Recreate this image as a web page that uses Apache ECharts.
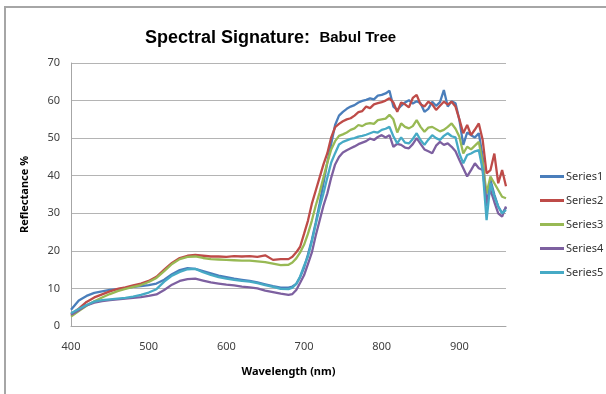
<!DOCTYPE html>
<html>
<head>
<meta charset="utf-8">
<script src="https://cdn.jsdelivr.net/npm/echarts@6/dist/echarts.min.js"></script>
<style>
  html, body { margin: 0; padding: 0; background: #fff; }
  #chart { width: 606px; height: 394px; }
</style>
</head>
<body>
<div id="chart"></div>
<script>
// wavelengths (nm): 10 nm steps in the visible, 5 nm from 680 on
let wavelengths = [
  400, 410, 420, 430, 440, 450, 460, 470, 480, 490, 500, 510, 520, 530, 540,
  550, 560, 570, 580, 590, 600, 610, 620, 630, 640, 650, 660, 670, 680,
  685, 690, 695, 700, 705, 710, 715, 720, 725, 730, 735, 740, 745, 750, 755,
  760, 765, 770, 775, 780, 785, 790, 795, 800, 805, 810, 815, 820, 825, 830,
  835, 840, 845, 850, 855, 860, 865, 870, 875, 880, 885, 890, 895, 900, 905,
  910, 915, 920, 925, 930, 935, 940, 945, 950, 955, 960
];

let series1 = [
  4.3, 6.8, 8.0, 8.8, 9.2, 9.6, 9.8, 10.1, 10.4, 10.6, 10.9, 11.3, 12.3, 13.8, 14.9,
  15.4, 15.2, 14.6, 14.0, 13.4, 13.0, 12.6, 12.3, 12.0, 11.6, 11.1, 10.6, 10.2, 10.2,
  10.5, 11.2, 13.0, 15.5, 19.0, 22.9, 27.5, 32.5, 38.0, 43.5, 48.5, 53.5, 56.0, 57.0, 57.8,
  58.4, 58.8, 59.5, 59.9, 60.2, 60.6, 60.3, 61.3, 61.5, 61.9, 62.6, 58.4, 57.5, 58.6, 59.5,
  60.1, 59.2, 59.8, 59.3, 57.0, 57.8, 59.7, 58.6, 59.6, 62.8, 58.4, 59.8, 59.3, 54.8, 48.2,
  51.5, 50.8, 50.2, 51.3, 45.0, 31.8, 38.9, 35.0, 31.8, 30.0, 31.5
];
let series2 = [
  3.0, 4.6, 6.4, 7.6, 8.4, 9.2, 9.9, 10.3, 10.8, 11.3, 12.0, 13.1, 15.0, 16.8, 18.1,
  18.7, 18.9, 18.7, 18.5, 18.5, 18.4, 18.6, 18.5, 18.6, 18.4, 18.8, 17.6, 17.8, 17.8,
  18.4, 19.6, 21.1, 24.5, 28.0, 32.5, 36.0, 39.5, 43.0, 46.0, 50.2, 52.9, 53.8, 54.5, 55.0,
  55.3, 56.0, 56.9, 57.2, 58.4, 58.0, 59.0, 59.3, 59.6, 60.0, 60.6, 59.5, 57.0, 59.5, 59.0,
  58.2, 60.7, 61.5, 59.0, 58.4, 59.7, 59.0, 57.5, 58.6, 59.7, 58.9, 59.7, 58.4, 55.0, 51.3,
  53.5, 50.8, 52.3, 53.9, 49.5, 40.6, 41.5, 45.9, 38.0, 41.5, 37.2
];
let series3 = [
  2.5, 4.0, 5.4, 6.6, 7.6, 8.5, 9.3, 9.9, 10.4, 10.9, 11.7, 12.8, 14.6, 16.5, 17.8,
  18.4, 18.5, 18.1, 17.8, 17.7, 17.6, 17.5, 17.4, 17.4, 17.2, 17.0, 16.6, 16.2, 16.3,
  16.9, 18.0, 19.6, 21.6, 24.5, 28.0, 32.0, 35.5, 39.5, 43.5, 47.0, 49.2, 50.6, 51.0, 51.5,
  52.2, 52.6, 53.5, 53.2, 53.8, 54.0, 53.8, 54.8, 55.0, 55.2, 56.2, 55.0, 51.5, 53.9, 53.0,
  52.6, 53.2, 54.8, 53.0, 51.7, 52.8, 53.0, 52.4, 51.8, 52.2, 53.0, 53.9, 52.5, 50.4, 45.9,
  47.7, 47.0, 48.0, 49.0, 43.3, 35.3, 39.8, 38.0, 36.2, 34.4, 34.0
];
let series4 = [
  3.0, 4.2, 5.5, 6.2, 6.6, 6.9, 7.1, 7.3, 7.5, 7.7, 8.0, 8.4, 9.6, 11.0, 12.0,
  12.5, 12.6, 12.1, 11.6, 11.3, 11.0, 10.8, 10.5, 10.3, 10.0, 9.4, 9.0, 8.6, 8.3,
  8.5, 9.6, 11.5, 13.5, 16.5, 19.5, 24.0, 28.0, 32.0, 35.3, 39.5, 43.0, 45.0, 46.2, 46.8,
  47.3, 47.8, 48.4, 48.8, 49.2, 49.9, 49.5, 50.3, 50.8, 50.2, 50.8, 47.7, 48.5, 48.2, 47.5,
  47.3, 48.4, 50.0, 48.5, 47.0, 46.5, 46.0, 48.0, 49.0, 48.2, 48.6, 47.7, 46.5, 44.2, 42.0,
  39.8, 41.5, 43.3, 42.0, 41.5, 32.7, 36.2, 33.0, 30.0, 29.1, 31.8
];
let series5 = [
  3.4, 4.5, 5.6, 6.5, 6.9, 7.1, 7.3, 7.5, 7.8, 8.3, 8.9, 9.8, 11.8, 13.4, 14.4,
  15.1, 15.2, 14.3, 13.6, 13.0, 12.6, 12.3, 12.0, 11.8, 11.4, 10.9, 10.4, 9.9, 9.8,
  10.2, 11.2, 13.2, 16.0, 18.5, 22.5, 27.0, 31.5, 35.3, 39.5, 43.5, 46.0, 48.3, 49.0, 49.4,
  49.8, 50.0, 50.4, 50.6, 50.9, 51.3, 51.7, 51.5, 52.2, 52.5, 53.0, 50.5, 48.6, 50.2, 48.8,
  48.6, 49.8, 51.3, 49.5, 48.2, 49.6, 50.8, 50.0, 49.5, 50.6, 51.3, 50.5, 50.2, 45.9, 43.3,
  45.5, 45.9, 46.5, 46.8, 41.5, 28.2, 38.0, 34.5, 31.8, 30.0, 30.9
];

let names = ['Series1', 'Series2', 'Series3', 'Series4', 'Series5'];
let colors = ['#4a7ebb', '#be4b48', '#98b954', '#7d60a0', '#46aac5'];
let allSeries = [series1, series2, series3, series4, series5];

let chartDom = document.getElementById('chart');
let myChart = echarts.init(chartDom);
let option;

function pairs(vals) {
  return wavelengths.map(function (w, i) { return [w, vals[i]]; });
}

option = {
  animation: false,
  backgroundColor: '#fff',
  textStyle: { fontFamily: 'Noto Sans' },
  graphic: [{
    type: 'rect',
    shape: { x: 5, y: 7, width: 700, height: 500 },
    style: { fill: 'none', stroke: '#a6a6a6', lineWidth: 2 },
    silent: true
  }],
  title: {
    text: '{a|Spectral Signature:}  {b|Babul Tree}',
    left: 140,
    top: 24,
    textStyle: {
      rich: {
        a: { fontFamily: 'Liberation Sans', fontWeight: 'bold', fontSize: 18, color: '#000' },
        b: { fontFamily: 'Liberation Sans', fontWeight: 'bold', fontSize: 15, color: '#000' }
      }
    }
  },
  legend: {
    orient: 'vertical',
    left: 535,
    top: 166,
    icon: 'rect',
    itemWidth: 24,
    itemHeight: 3,
    itemGap: 13,
    data: names,
    textStyle: { fontSize: 11, color: '#333', padding: [0, 0, 0, -3] }
  },
  grid: { left: 71, top: 63, right: 100, bottom: 68 },
  xAxis: {
    type: 'value',
    min: 400,
    max: 960,
    interval: 100,
    name: 'Wavelength (nm)',
    nameLocation: 'middle',
    nameGap: 40,
    nameTextStyle: { fontWeight: 'bold', fontSize: 11, color: '#000' },
    axisLine: { lineStyle: { color: '#a6a6a6' } },
    axisTick: { show: false },
    splitLine: { show: false },
    axisLabel: { fontSize: 11, color: '#404040', margin: 15, showMaxLabel: false }
  },
  yAxis: {
    type: 'value',
    min: 0,
    max: 70,
    interval: 10,
    name: 'Reflectance %',
    nameLocation: 'middle',
    nameGap: 41,
    nameTextStyle: { fontWeight: 'bold', fontSize: 11, color: '#000' },
    axisLine: { show: true, lineStyle: { color: '#a6a6a6' } },
    axisTick: { show: false },
    splitLine: { lineStyle: { color: '#b4b4b4' } },
    axisLabel: { fontSize: 11, color: '#404040', margin: 11 }
  },
  series: allSeries.map(function (vals, i) {
    return {
      name: names[i],
      type: 'line',
      symbol: 'none',
      data: pairs(vals),
      lineStyle: { width: 2.3, color: colors[i] },
      itemStyle: { color: colors[i] }
    };
  })
};

option && myChart.setOption(option);
</script>
</body>
</html>
